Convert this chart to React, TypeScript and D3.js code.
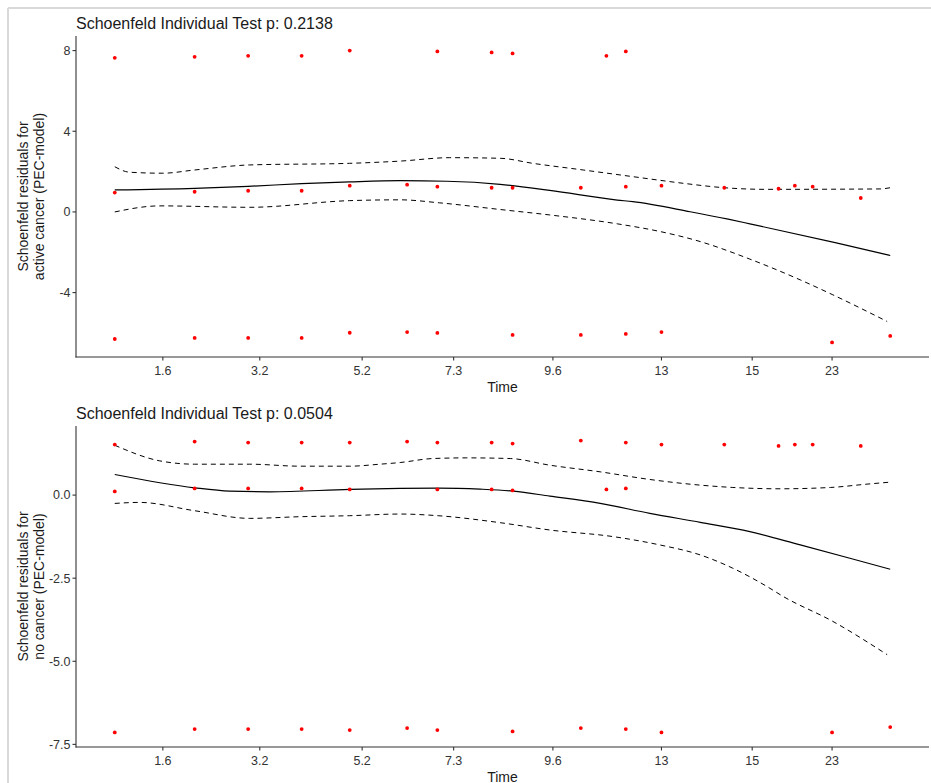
import React from "react";
import * as d3 from "d3";

// ---------- shared x axis (transformed time) ----------
const timeTicks = [0.062, 0.187, 0.319, 0.437, 0.565, 0.705, 0.822, 0.925];
const timeTickLabels = ["1.6", "3.2", "5.2", "7.3", "9.6", "13", "15", "23"];
const xAxisTitle = "Time";

// ---------- panel 1: active cancer ----------
const activeTitle = "Schoenfeld Individual Test p: 0.2138";
const activeYTitle = ["Schoenfeld residuals for", "active cancer (PEC-model)"];
const activeYTicks = [-4, 0, 4, 8];
const activeYTickLabels = ["-4", "0", "4", "8"];
const activeResidHigh: [number, number][] = [
  [0, 7.64], [0.103, 7.69], [0.172, 7.74], [0.241, 7.74], [0.303, 8.0],
  [0.416, 7.96], [0.486, 7.91], [0.513, 7.86], [0.634, 7.74], [0.659, 7.96],
];
const activeResidMid: [number, number][] = [
  [0, 0.96], [0.103, 1.0], [0.172, 1.05], [0.241, 1.05], [0.303, 1.3],
  [0.377, 1.35], [0.416, 1.25], [0.486, 1.2], [0.513, 1.2], [0.601, 1.2],
  [0.659, 1.25], [0.705, 1.3], [0.786, 1.2], [0.856, 1.15], [0.877, 1.3],
  [0.9, 1.25], [0.962, 0.69],
];
const activeResidLow: [number, number][] = [
  [0, -6.3], [0.103, -6.25], [0.172, -6.25], [0.241, -6.25], [0.303, -5.99],
  [0.377, -5.96], [0.416, -6.0], [0.513, -6.1], [0.601, -6.1], [0.659, -6.05],
  [0.705, -5.96], [0.925, -6.47], [1.0, -6.15],
];
const activeFit: [number, number][] = [
  [0, 1.09], [0.103, 1.17], [0.172, 1.27], [0.241, 1.4], [0.303, 1.49],
  [0.368, 1.55], [0.428, 1.52], [0.497, 1.37], [0.561, 1.07], [0.648, 0.59],
  [0.668, 0.51], [0.742, 0.01], [0.791, -0.36], [0.819, -0.59], [0.929, -1.52],
  [1.0, -2.16],
];
const activeUpper: [number, number][] = [
  [0, 2.24], [0.019, 1.97], [0.062, 1.92], [0.103, 2.08], [0.174, 2.33],
  [0.303, 2.41], [0.368, 2.52], [0.432, 2.69], [0.497, 2.66], [0.539, 2.41],
  [0.604, 2.08], [0.668, 1.75], [0.733, 1.42], [0.786, 1.2], [0.841, 1.12],
  [0.987, 1.14], [1.0, 1.2],
];
const activeLower: [number, number][] = [
  [0, 0.0], [0.058, 0.3], [0.174, 0.23], [0.303, 0.56], [0.368, 0.6],
  [0.419, 0.45], [0.497, 0.12], [0.561, -0.15], [0.648, -0.59], [0.703, -0.97],
  [0.755, -1.47], [0.819, -2.34], [0.884, -3.37], [0.926, -4.11], [0.996, -5.43],
];

// ---------- panel 2: no cancer ----------
const noneTitle = "Schoenfeld Individual Test p: 0.0504";
const noneYTitle = ["Schoenfeld residuals for", "no cancer (PEC-model)"];
const noneYTicks = [-7.5, -5, -2.5, 0];
const noneYTickLabels = ["-7.5", "-5.0", "-2.5", "0.0"];
const noneResidHigh: [number, number][] = [
  [0, 1.52], [0.103, 1.61], [0.172, 1.58], [0.241, 1.58], [0.303, 1.58],
  [0.377, 1.61], [0.416, 1.58], [0.486, 1.58], [0.513, 1.55], [0.601, 1.64],
  [0.659, 1.58], [0.705, 1.52], [0.786, 1.52], [0.856, 1.48], [0.877, 1.52],
  [0.9, 1.52], [0.962, 1.48],
];
const noneResidMid: [number, number][] = [
  [0, 0.11], [0.103, 0.2], [0.172, 0.2], [0.241, 0.2], [0.303, 0.17],
  [0.416, 0.17], [0.486, 0.17], [0.513, 0.14], [0.634, 0.17], [0.659, 0.2],
];
const noneResidLow: [number, number][] = [
  [0, -7.14], [0.103, -7.04], [0.172, -7.04], [0.241, -7.04], [0.303, -7.07],
  [0.377, -7.01], [0.416, -7.07], [0.513, -7.11], [0.601, -7.01], [0.659, -7.04],
  [0.705, -7.14], [0.925, -7.14], [1.0, -6.98],
];
const noneFit: [number, number][] = [
  [0, 0.62], [0.103, 0.22], [0.148, 0.12], [0.2, 0.1], [0.303, 0.17],
  [0.368, 0.2], [0.417, 0.21], [0.471, 0.18], [0.514, 0.12], [0.561, -0.03],
  [0.626, -0.25], [0.69, -0.55], [0.755, -0.82], [0.819, -1.1], [0.884, -1.5],
  [0.948, -1.9], [1.0, -2.23],
];
const noneUpper: [number, number][] = [
  [0, 1.5], [0.058, 1.03], [0.103, 0.93], [0.174, 0.93], [0.239, 0.87],
  [0.303, 0.87], [0.342, 0.93], [0.368, 0.98], [0.41, 1.1], [0.454, 1.12],
  [0.51, 1.1], [0.561, 0.9], [0.626, 0.7], [0.69, 0.47], [0.755, 0.3],
  [0.797, 0.23], [0.858, 0.19], [0.923, 0.23], [0.97, 0.33], [1.0, 0.39],
];
const noneLower: [number, number][] = [
  [0, -0.25], [0.032, -0.22], [0.103, -0.47], [0.174, -0.7], [0.239, -0.65],
  [0.303, -0.62], [0.368, -0.57], [0.417, -0.62], [0.497, -0.83], [0.561, -1.05],
  [0.643, -1.25], [0.703, -1.5], [0.755, -1.8], [0.797, -2.2], [0.841, -2.75],
  [0.862, -3.05], [0.926, -3.8], [0.996, -4.8],
];

const FONT = "'Liberation Sans', Arial, Helvetica, sans-serif";
const LEFT = 76;
const RIGHT = 929;

type Pt = [number, number];

function Panel(props: {
  top: number;
  bottom: number;
  title: string;
  yTitle: string[];
  yTicks: number[];
  yTickLabels: string[];
  points: Pt[][];
  fit: Pt[];
  upper: Pt[];
  lower: Pt[];
}) {
  const { top, bottom, title, yTitle, yTicks, yTickLabels, points, fit, upper, lower } = props;
  const x = d3.scaleLinear().domain([-0.05, 1.05]).range([LEFT, RIGHT]);
  const allVals = points.flat().map((p) => p[1]);
  const [mn, mx] = d3.extent(allVals) as [number, number];
  const pad = (mx - mn) * 0.05;
  const y = d3.scaleLinear().domain([mn - pad, mx + pad]).range([bottom, top]);
  const line = d3
    .line<Pt>()
    .x((d) => x(d[0]))
    .y((d) => y(d[1]))
    .curve(d3.curveMonotoneX);
  const midY = (top + bottom) / 2;
  return (
    <g>
      <text x={LEFT} y={top - 7.5} fontFamily={FONT} fontSize={16} fill="#1a1a1a">
        {title}
      </text>
      {/* fitted curves */}
      <path d={line(upper) || ""} fill="none" stroke="#000" strokeWidth={1} strokeDasharray="5,4" />
      <path d={line(lower) || ""} fill="none" stroke="#000" strokeWidth={1} strokeDasharray="5,4" />
      <path d={line(fit) || ""} fill="none" stroke="#000" strokeWidth={1.2} />
      {/* residual points */}
      {points.flat().map((p, i) => (
        <circle key={i} cx={x(p[0])} cy={y(p[1])} r={1.9} fill="#FF0000" />
      ))}
      {/* axes */}
      <line x1={LEFT} x2={LEFT} y1={top} y2={bottom + 0.5} stroke="#333" strokeWidth={1.1} />
      <line x1={LEFT - 0.5} x2={RIGHT} y1={bottom} y2={bottom} stroke="#333" strokeWidth={1.1} />
      {yTicks.map((t, i) => (
        <g key={"y" + i}>
          <line x1={LEFT - 3.5} x2={LEFT} y1={y(t)} y2={y(t)} stroke="#333" strokeWidth={1.1} />
          <text
            x={LEFT - 5.5}
            y={y(t)}
            dy="0.35em"
            textAnchor="end"
            fontFamily={FONT}
            fontSize={12.5}
            fill="#333"
          >
            {yTickLabels[i]}
          </text>
        </g>
      ))}
      {timeTicks.map((t, i) => (
        <g key={"x" + i}>
          <line x1={x(t)} x2={x(t)} y1={bottom} y2={bottom + 3.5} stroke="#333" strokeWidth={1.1} />
          <text
            x={x(t)}
            y={bottom + 18}
            textAnchor="middle"
            fontFamily={FONT}
            fontSize={12.5}
            fill="#333"
          >
            {timeTickLabels[i]}
          </text>
        </g>
      ))}
      <text
        x={(LEFT + RIGHT) / 2}
        y={bottom + 34.5}
        textAnchor="middle"
        fontFamily={FONT}
        fontSize={14}
        fill="#1a1a1a"
      >
        {xAxisTitle}
      </text>
      {yTitle.map((s, i) => (
        <text
          key={"yt" + i}
          transform={`translate(${27.5 + i * 16.5},${midY}) rotate(-90)`}
          textAnchor="middle"
          fontFamily={FONT}
          fontSize={14}
          fill="#1a1a1a"
        >
          {s}
        </text>
      ))}
    </g>
  );
}

export default function App() {
  return (
    <svg
      width={931}
      height={783}
      style={{ position: "absolute", left: 0, top: 0, background: "#fff" }}
    >
      <rect x={0} y={0} width={931} height={783} fill="#fff" />
      <line x1={8} x2={931} y1={8} y2={8} stroke="#d9d9d9" strokeWidth={2} />
      <line x1={8} x2={8} y1={8} y2={783} stroke="#d9d9d9" strokeWidth={2} />
      <Panel
        top={36}
        bottom={357}
        title={activeTitle}
        yTitle={activeYTitle}
        yTicks={activeYTicks}
        yTickLabels={activeYTickLabels}
        points={[activeResidHigh, activeResidMid, activeResidLow]}
        fit={activeFit}
        upper={activeUpper}
        lower={activeLower}
      />
      <Panel
        top={426}
        bottom={747}
        title={noneTitle}
        yTitle={noneYTitle}
        yTicks={noneYTicks}
        yTickLabels={noneYTickLabels}
        points={[noneResidHigh, noneResidMid, noneResidLow]}
        fit={noneFit}
        upper={noneUpper}
        lower={noneLower}
      />
    </svg>
  );
}
